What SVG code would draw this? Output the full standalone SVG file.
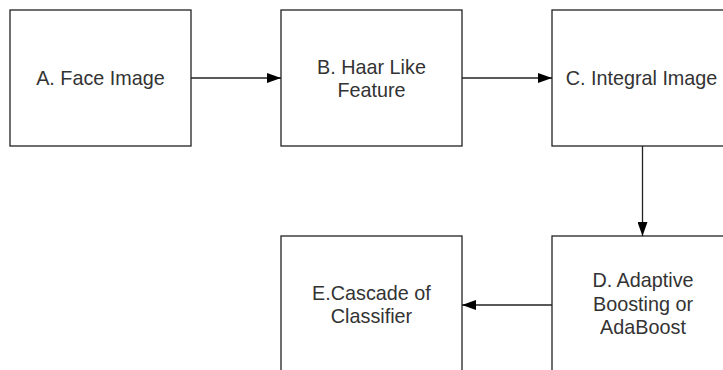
<svg xmlns="http://www.w3.org/2000/svg" width="723" height="370" viewBox="0 0 723 370">
<defs>
<style>
.box{fill:#fff;stroke:#222;stroke-width:1.3}
.lbl{font-family:"Liberation Sans",Arial,sans-serif;font-size:19.8px;fill:#333;text-anchor:middle}
.con{stroke:#222;stroke-width:1.3;fill:none}
</style>
<marker id="ah" viewBox="0 0 14 10" refX="14" refY="5" markerWidth="14" markerHeight="10" markerUnits="userSpaceOnUse" orient="auto">
<path d="M0,0 L14,5 L0,10 Z" fill="#000"/>
</marker>
</defs>
<rect width="723" height="370" fill="#fff"/>
<g id="nodeA">
<rect class="box" x="10" y="10" width="181" height="136"/>
<text class="lbl" x="100.5" y="84.5">A. Face Image</text>
</g>
<g id="nodeB">
<rect class="box" x="281" y="10" width="181" height="136"/>
<text class="lbl" x="371.5" y="73.5">B. Haar Like</text>
<text class="lbl" x="371.5" y="96.5">Feature</text>
</g>
<g id="nodeC">
<rect class="box" x="552" y="10" width="181" height="136"/>
<text class="lbl" x="641.5" y="84.5">C. Integral Image</text>
</g>
<g id="nodeD">
<rect class="box" x="552" y="236" width="181" height="136"/>
<text class="lbl" x="643" y="286.5">D. Adaptive</text>
<text class="lbl" x="643" y="310.5">Boosting or</text>
<text class="lbl" x="643" y="334">AdaBoost</text>
</g>
<g id="nodeE">
<rect class="box" x="281" y="236" width="181" height="136"/>
<text class="lbl" x="371.5" y="299.5">E.Cascade of</text>
<text class="lbl" x="371.5" y="322.5">Classifier</text>
</g>
<g id="connectors">
<line class="con" x1="191" y1="78" x2="281" y2="78" marker-end="url(#ah)"/>
<line class="con" x1="462" y1="78" x2="552" y2="78" marker-end="url(#ah)"/>
<line class="con" x1="642.5" y1="146" x2="642.5" y2="236" marker-end="url(#ah)"/>
<line class="con" x1="552" y1="305" x2="462" y2="305" marker-end="url(#ah)"/>
</g>
</svg>
